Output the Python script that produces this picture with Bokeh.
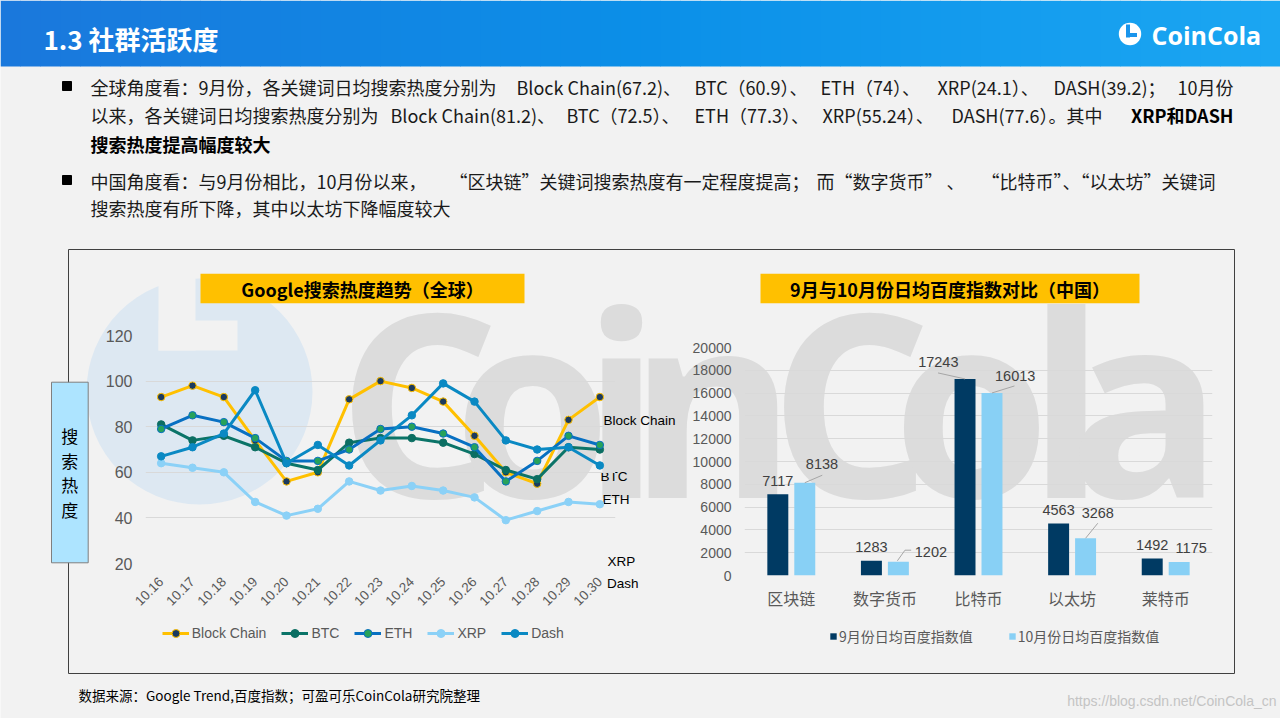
import math
from bokeh.plotting import figure
from bokeh.models import (Range1d, FactorRange, FixedTicker, Legend, LegendItem,
                          ColumnDataSource)
from bokeh.transform import dodge
from bokeh.core.properties import value
from bokeh.embed import file_html
from bokeh.resources import INLINE

# ---------------- data ----------------
dates = ["10.16", "10.17", "10.18", "10.19", "10.20", "10.21", "10.22", "10.23",
         "10.24", "10.25", "10.26", "10.27", "10.28", "10.29", "10.30"]
block_chain = [93, 98, 93, 74, 56, 60, 92, 100, 97, 91, 76, 60, 55, 83, 93]
btc = [81, 74, 76, 71, 64, 61, 73, 75, 75, 73, 68, 61, 57, 71, 70]
eth = [79, 85, 82, 75, 65, 65, 70, 79, 80, 77, 71, 56, 65, 76, 72]
xrp = [64, 62, 60, 47, 41, 44, 56, 52, 54, 52, 49, 39, 43, 47, 46]
dash = [67, 71, 77, 96, 64, 72, 63, 74, 85, 99, 91, 74, 70, 71, 63]
series_names = ["Block Chain", "BTC", "ETH", "XRP", "Dash"]
line_ticks = [20, 40, 60, 80, 100, 120]

coins = ["区块链", "数字货币", "比特币", "以太坊", "莱特币"]
sep_idx = [7117, 1283, 17243, 4563, 1492]
oct_idx = [8138, 1202, 16013, 3268, 1175]
bar_names = ["9月份日均百度指数值", "10月份日均百度指数值"]
bar_ticks = [0, 2000, 4000, 6000, 8000, 10000, 12000, 14000, 16000, 18000, 20000]

CJK = "Noto Sans CJK SC"
LAT = "Liberation Sans"
W, H = 1280, 718

line_cols = ["#ffc000", "#0b7468", "#0870c2", "#8bd1f7", "#0a89c3"]
mk_fill = ["#1b3a5e", "#0b6e62", "#27a25a", "#8bd1f7", "#0a89c3"]
mk_line = ["#ffc000", "#0b6e62", "#0870c2", "#8bd1f7", "#0a89c3"]
bar_cols = ["#003a63", "#88d0f5"]

# ---------------- background layer (page pixel coordinates) ----------------
bg = figure(width=W, height=H, x_range=Range1d(0, W), y_range=Range1d(H, 0),
            output_backend="svg", toolbar_location=None, min_border=0,
            x_axis_type=None, y_axis_type=None)
bg.grid.visible = False
bg.outline_line_color = None
bg.background_fill_color = "#F2F2F2"
bg.border_fill_color = "#F2F2F2"

def lerp(c1, c2, t):
    a = [int(c1[i:i + 2], 16) for i in (1, 3, 5)]
    b = [int(c2[i:i + 2], 16) for i in (1, 3, 5)]
    return "#%02x%02x%02x" % tuple(int(round(a[k] + (b[k] - a[k]) * t)) for k in range(3))

n = 64
lefts, rights, cols = [], [], []
for i in range(n):
    x0 = (W / n) * i
    lefts.append(x0)
    rights.append(x0 + W / n + 0.5)
    t = i / (n - 1)
    if t < 0.5:
        cols.append(lerp("#1a78dc", "#0b8fe8", t / 0.5))
    else:
        cols.append(lerp("#0b8fe8", "#1ba6f2", (t - 0.5) / 0.5))
bg.quad(left=lefts, right=rights, top=0, bottom=66, fill_color=cols, line_color=None)

bg.text(x=[43], y=[38], text=["1.3 社群活跃度"], text_font=value(CJK),
        text_font_style="bold", text_font_size="26px", text_color="white",
        text_baseline="middle")
bg.circle(x=[1129.5], y=[33.5], radius=11.2, fill_color="white", line_color=None)
bg.quad(left=[1125.5, 1125.5], right=[1129.5, 1136.5], top=[24, 32.5], bottom=[37, 36.5],
        fill_color="#1a95ec", line_color=None)
bg.text(x=[1151], y=[34], text=["CoinCola"], text_font=value("Open Sans"),
        text_font_style="bold", text_font_size="25px", text_color="white",
        text_baseline="middle")

# bullets and body text (set in chunks to imitate the justified paragraph)
bg.scatter(x=[66.5, 66.5], y=[85.5, 179.5], marker="square", size=9, color="black")
body = dict(text_font=value(CJK), text_font_size="18px", text_color="#1a1a1a",
            text_baseline="middle")
bg.text(x=[90, 516, 694, 820, 937, 1053],
        y=[86] * 6,
        text=["全球角度看：9月份，各关键词日均搜索热度分别为", "Block Chain(67.2)、",
              "BTC（60.9）、", "ETH（74）、", "XRP(24.1）、", "DASH(39.2)；"], **body)
bg.text(x=[1233], y=[86], text=["10月份"], text_align="right", **body)
bg.text(x=[90, 390, 566, 694, 822, 951],
        y=[114.5] * 6,
        text=["以来，各关键词日均搜索热度分别为", "Block Chain(81.2)、",
              "BTC（72.5）、", "ETH（77.3）、", "XRP(55.24）、", "DASH(77.6）。其中"], **body)
bg.text(x=[90, 449, 816], y=[180] * 3,
        text=["中国角度看：与9月份相比，10月份以来，", "“区块链”关键词搜索热度有一定程度提高；",
              "而“数字货币” 、"], **body)
bg.text(x=[1233], y=[180], text=["“比特币”、“以太坊”关键词"], text_align="right", **body)
bg.text(x=[90], y=[207.5], text=["搜索热度有所下降，其中以太坊下降幅度较大"], **body)
bold = dict(body, text_font_style="bold", text_color="black")
bg.text(x=[1233], y=[114.5], text=["XRP和DASH"], text_align="right", **bold)
bg.text(x=[90], y=[143], text=["搜索热度提高幅度较大"], **bold)

# watermark
bg.circle(x=[199], y=[391], radius=113, fill_color="#dde8f2", line_color=None)
bg.quad(left=[158, 158], right=[195, 237], top=[273, 320], bottom=[350, 350],
        fill_color="#F2F2F2", line_color=None)
wm_letters = list("CoinCola")
wm_x = [418, 532, 621, 712, 850, 971, 1066, 1145]
bg.text(x=wm_x, y=[398] * 8, text=wm_letters, text_font=value("Open Sans"),
        text_font_style="bold", text_font_size="255px", text_color="#dcdcdc",
        text_align="center", text_baseline="alphabetic")

# chart box, axis-title box, chart titles
bg.quad(left=[68], right=[1234], top=[249], bottom=[673], fill_color=None,
        line_color="#404040", line_width=1)
bg.quad(left=[51], right=[87.7], top=[381.7], bottom=[562.3], fill_color="#ade4ff",
        line_color="#7f7f7f", line_width=1)
bg.text(x=[69.3] * 4, y=[435, 459.5, 484, 508.5], text=list("搜索热度"),
        text_font=value(CJK), text_font_size="17px", text_color="black",
        text_align="center", text_baseline="middle")
bg.quad(left=[200, 760], right=[524, 1139], top=[273.3, 273.3], bottom=[302.7, 302.7],
        fill_color="#ffc000", line_color=None)
bg.text(x=[362, 949.5], y=[288.5, 288.5],
        text=["Google搜索热度趋势（全球）", "9月与10月份日均百度指数对比（中国）"],
        text_font=value(CJK), text_font_style="bold", text_font_size="18px",
        text_color="black", text_align="center", text_baseline="middle")
# stray series labels on the right of the line chart
bg.text(x=[603, 600, 602, 607, 606.4], y=[420, 475.7, 498.7, 560.7, 583.3],
        text=series_names[:3] + ["XRP", "Dash"], text_font=value(LAT),
        text_font_size="13.5px", text_color="black", text_baseline="middle")
# footer
bg.text(x=[78], y=[694], text=["数据来源：Google Trend,百度指数；可盈可乐CoinCola研究院整理"],
        text_font=value(CJK), text_font_size="13.5px", text_color="black",
        text_baseline="middle")
bg.text(x=[1276], y=[700], text=["https://blog.csdn.net/CoinCola_cn"],
        text_font=value(LAT), text_font_size="14px", text_color="#c4c4c4",
        text_baseline="middle", text_align="right")

# legends (drawn on the full-page layer so they are not clipped by a chart frame);
# their proxy glyphs sit off-canvas
leg_items = []
for name, lcol, mf, ml in zip(series_names, line_cols, mk_fill, mk_line):
    r1 = bg.line(x=[-50, -40], y=[-50, -50], line_color=lcol, line_width=3)
    r2 = bg.scatter(x=[-50], y=[-50], size=7.5, fill_color=mf, line_color=ml,
                    line_width=1)
    leg_items.append(LegendItem(label=name, renderers=[r1, r2]))
leg = Legend(items=leg_items, location=(161.7, H - 642.7), orientation="horizontal",
             background_fill_alpha=0, border_line_color=None, padding=0, margin=0,
             spacing=15, label_standoff=3, glyph_width=27, glyph_height=20,
             label_text_font=LAT, label_text_font_size="14px",
             label_text_color="#595959")
bg.add_layout(leg)
bar_items = []
for name, col in zip(bar_names, bar_cols):
    rb = bg.vbar(x=[-50], top=[-50], bottom=[-60], width=1, fill_color=col,
                 line_color=None)
    bar_items.append(LegendItem(label=name, renderers=[rb]))
leg2 = Legend(items=bar_items, location=(829, H - 646), orientation="horizontal",
              background_fill_alpha=0, border_line_color=None, padding=0, margin=0,
              spacing=35, label_standoff=2, glyph_width=8, glyph_height=8,
              label_text_font=CJK, label_text_font_size="14px",
              label_text_color="#595959")
bg.add_layout(leg2)

# ---------------- line chart layer ----------------
lc = figure(width=W, height=H, x_range=FactorRange(*dates), y_range=Range1d(20, 120),
            output_backend="svg", toolbar_location=None,
            min_border_left=145, min_border_right=W - 145 - 470, min_border_top=335,
            min_border_bottom=H - 335 - 228, styles={"margin-top": "-%dpx" % H})
lc.background_fill_color = None
lc.border_fill_color = None
lc.outline_line_color = None
lc.xgrid.visible = False
lc.ygrid.grid_line_color = "#d9d9d9"
lc.yaxis.ticker = FixedTicker(ticks=line_ticks)
for ax in (lc.xaxis[0], lc.yaxis[0]):
    ax.axis_line_color = None
    ax.major_tick_line_color = None
    ax.minor_tick_line_color = None
    ax.major_tick_out = 0
    ax.minor_tick_out = 0
    ax.major_label_text_color = "#595959"
    ax.major_label_text_font = LAT
lc.yaxis.major_label_text_font_size = "16px"
lc.yaxis.major_label_standoff = 13
lc.xaxis.major_label_text_font_size = "13.5px"
lc.xaxis.major_label_orientation = math.pi / 4
lc.xaxis.major_label_standoff = 16

line_data = [block_chain, btc, eth, xrp, dash]
for name, ys, lcol, mf, ml in zip(series_names, line_data, line_cols, mk_fill, mk_line):
    src = ColumnDataSource(dict(x=dates, y=ys))
    lc.line("x", "y", source=src, line_color=lcol, line_width=3)
    lc.scatter("x", "y", source=src, size=7.5, fill_color=mf, line_color=ml,
               line_width=1)

# ---------------- bar chart layer ----------------
rc = figure(width=W, height=H, x_range=FactorRange(*coins), y_range=Range1d(0, 20000),
            output_backend="svg", toolbar_location=None,
            min_border_left=744, min_border_right=W - 744 - 468, min_border_top=347,
            min_border_bottom=H - 347 - 228, styles={"margin-top": "-%dpx" % H})
rc.background_fill_color = None
rc.border_fill_color = None
rc.outline_line_color = None
rc.xgrid.visible = False
rc.ygrid.grid_line_color = "#d9d9d9"
rc.yaxis.ticker = FixedTicker(ticks=bar_ticks)
for ax in (rc.xaxis[0], rc.yaxis[0]):
    ax.axis_line_color = None
    ax.major_tick_line_color = None
    ax.minor_tick_line_color = None
    ax.major_tick_out = 0
    ax.minor_tick_out = 0
    ax.major_label_text_color = "#595959"
rc.yaxis.major_label_text_font = LAT
rc.yaxis.major_label_text_font_size = "14px"
rc.yaxis.major_label_standoff = 13
rc.xaxis.major_label_text_font = CJK
rc.xaxis.major_label_text_font_size = "16px"
rc.xaxis.major_label_standoff = 10

OFF, BW = 0.144, 0.224
sep_dx = [0, 0, -26.7, 0, 0]
sep_dy = [-13.5, -13.4, -17, -13.3, -13.3]
oct_dx = [17.2, 32.5, 23.2, 12.2, 12]
oct_dy = [-18.5, -10, -17, -25.3, -14.6]
bsrc = ColumnDataSource(dict(c=coins, sep=sep_idx, oct=oct_idx,
                             sep_t=[str(v) for v in sep_idx],
                             oct_t=[str(v) for v in oct_idx],
                             sdx=sep_dx, sdy=sep_dy, odx=oct_dx, ody=oct_dy))
rc.vbar(x=dodge("c", -OFF, range=rc.x_range), top="sep", width=BW, source=bsrc,
        fill_color=bar_cols[0], line_color=None)
rc.vbar(x=dodge("c", OFF, range=rc.x_range), top="oct", width=BW, source=bsrc,
        fill_color=bar_cols[1], line_color=None)

lab_kw = dict(text_font=value(LAT), text_font_size="14.5px", text_color="#404040",
              text_align="center", text_baseline="middle")
rc.text(x=dodge("c", -OFF, range=rc.x_range), y="sep", text="sep_t",
        x_offset="sdx", y_offset="sdy", source=bsrc, **lab_kw)
rc.text(x=dodge("c", OFF, range=rc.x_range), y="oct", text="oct_t",
        x_offset="odx", y_offset="ody", source=bsrc, **lab_kw)

px_cat = 468 / len(coins)
px_val = 20000 / 228
leaders = [(-OFF, 2, sep_idx, [(0, 0), (-27, -6)]),
           (OFF, 0, oct_idx, [(0, 0), (17.5, -7.5)]),
           (OFF, 1, oct_idx, [(-1, -1), (6.6, -11.6), (12.8, -11.6)]),
           (OFF, 2, oct_idx, [(0, 0), (22.5, -7)]),
           (OFF, 3, oct_idx, [(0, 0), (12.2, -15)])]
xs, ys = [], []
for off, i, vals, pts in leaders:
    xs.append([i + 0.5 + off + dx / px_cat for dx, dy in pts])
    ys.append([vals[i] - dy * px_val for dx, dy in pts])
rc.multi_line(xs=xs, ys=ys, line_color="#a6a6a6", line_width=1)

html = file_html([bg, lc, rc], INLINE)
html = html.replace("<body>", '<body style="background-color:#F2F2F2;">', 1)
open("out.html", "w").write(html)
